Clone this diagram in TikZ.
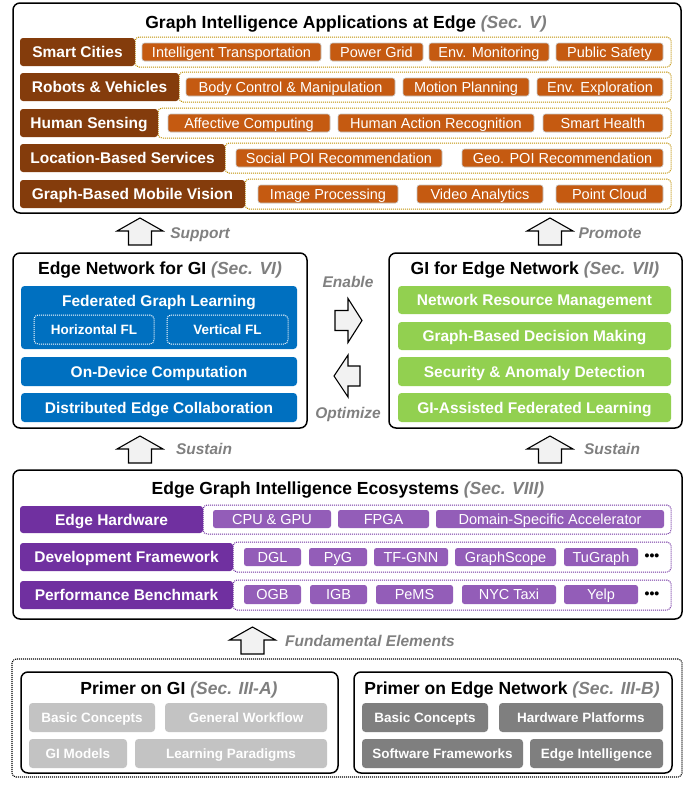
\documentclass[tikz,border=0pt]{standalone}
\usepackage{fontspec}
\setmainfont{Liberation Sans}
\definecolor{brownD}{HTML}{843C0C}
\definecolor{orangeI}{HTML}{C55A11}
\definecolor{goldDot}{HTML}{BF9000}
\definecolor{blueB}{HTML}{0070C0}
\definecolor{greenB}{HTML}{92D050}
\definecolor{purpleD}{HTML}{7030A0}
\definecolor{purpleL}{HTML}{935DB8}
\definecolor{grayL}{HTML}{C3C3C3}
\definecolor{grayD}{HTML}{7F7F7F}
\definecolor{secGray}{HTML}{7F7F7F}
\definecolor{arrFill}{HTML}{F2F2F2}
\newcommand\fsz[1]{\fontsize{#1}{#1}\selectfont}
\newcommand\secref[1]{{\itshape\color{secGray}#1}}
\newcommand\bx[7]{%
  \pgfmathsetmacro\bxw{#5-#3}\pgfmathsetmacro\bxh{#6-#4}%
  \node[#1, minimum width=\bxw pt, minimum height=\bxh pt, inner sep=0pt] (#2) at ({(#3+#5)/2},{(#4+#6)/2}) {#7};}
\begin{document}
\begin{tikzpicture}[x=1pt,y=-1pt,
  txt/.style={text height=#1, text depth=0pt},
  outer/.style={draw=black, line width=1.5pt, rounded corners=7pt, fill=white},
  cat/.style={txt=11.1pt, fill=brownD, text=white, rounded corners=3pt, font=\fsz{15.5}\bfseries},
  item/.style={txt=10.4pt, fill=orangeI, draw=gray!45, line width=0.6pt, text=white, rounded corners=2.5pt, font=\fsz{14.5}},
  golddots/.style={draw=goldDot, dash pattern=on 1pt off 1pt, line width=1pt, rounded corners=4pt},
  bluebox/.style={txt=11.1pt, fill=blueB, text=white, rounded corners=3.5pt, font=\fsz{15.5}\bfseries},
  whitedots/.style={txt=9.7pt, draw=white, dash pattern=on 1pt off 1pt, line width=1pt, rounded corners=4pt, text=white, font=\fsz{13.5}\bfseries},
  greenbox/.style={txt=11.1pt, fill=greenB, text=white, rounded corners=3.5pt, font=\fsz{15.5}\bfseries},
  pcat/.style={txt=11.1pt, fill=purpleD, text=white, rounded corners=3pt, font=\fsz{15.5}\bfseries},
  pitem/.style={txt=10.4pt, fill=purpleL, text=white, rounded corners=2.5pt, font=\fsz{14.5}},
  purpledots/.style={draw=purpleD, dash pattern=on 1pt off 1pt, line width=1pt, rounded corners=4pt},
  lgray/.style={txt=9.7pt, fill=grayL, text=white, rounded corners=3.5pt, font=\fsz{13.5}\bfseries},
  dgray/.style={txt=9.7pt, fill=grayD, text=white, rounded corners=3.5pt, font=\fsz{13.5}\bfseries},
  blackdots/.style={draw=black, dash pattern=on 1pt off 1pt, line width=1.1pt, rounded corners=4pt},
  title/.style={txt=12.6pt, font=\fsz{17.5}\bfseries, inner sep=0pt},
  arrlabel/.style={txt=11.1pt, font=\fsz{15.5}\bfseries\itshape, text=gray, inner sep=0pt},
  blockarrow/.style={draw=black, line width=1.1pt, fill=arrFill, line join=miter},
  uparr/.pic={\draw[blockarrow] (0,0)--(23,13)--(11.5,13)--(11.5,27)--(-11.5,27)--(-11.5,13)--(-23,13)--cycle;},
  rightarr/.pic={\draw[blockarrow] (0,0)--(-14,-22)--(-14,-10)--(-27,-10)--(-27,10)--(-14,10)--(-14,22)--cycle;},
  leftarr/.pic={\draw[blockarrow] (0,0)--(14,-21)--(14,-10)--(26,-10)--(26,10)--(14,10)--(14,21)--cycle;}
]
\useasboundingbox (0,0) rectangle (697,785);

% ---------- Top: applications ----------
\bx{outer}{apps}{13}{3}{681}{213}{}
\node[title] (appsT) at (346,22) {Graph Intelligence Applications at Edge \secref{(Sec. V)}};

\bx{golddots}{r1d}{135}{37}{671}{67}{}
\bx{cat}{r1}{20}{38}{135}{66}{Smart Cities}
\bx{item}{r1a}{142}{43}{321}{61}{Intelligent Transportation}
\bx{item}{r1b}{330}{43}{423}{61}{Power Grid}
\bx{item}{r1c}{429}{43}{549}{61}{Env. Monitoring}
\bx{item}{r1e}{556}{43}{663}{61}{Public Safety}

\bx{golddots}{r2d}{179}{72}{671}{102}{}
\bx{cat}{r2}{20}{73}{179}{101}{Robots \& Vehicles}
\bx{item}{r2a}{186}{78}{395}{96}{Body Control \& Manipulation}
\bx{item}{r2b}{403}{78}{529}{96}{Motion Planning}
\bx{item}{r2c}{537}{78}{663}{96}{Env. Exploration}

\bx{golddots}{r3d}{158}{108}{671}{138}{}
\bx{cat}{r3}{20}{109}{158}{137}{Human Sensing}
\bx{item}{r3a}{168}{114}{330}{132}{Affective Computing}
\bx{item}{r3b}{338}{114}{534}{132}{Human Action Recognition}
\bx{item}{r3c}{543}{114}{663}{132}{Smart Health}

\bx{golddots}{r4d}{225}{143}{671}{173}{}
\bx{cat}{r4}{20}{144}{225}{172}{Location-Based Services}
\bx{item}{r4a}{236}{149}{442}{167}{Social POI Recommendation}
\bx{item}{r4b}{462}{149}{663}{167}{Geo. POI Recommendation}

\bx{golddots}{r5d}{245}{179}{671}{209}{}
\bx{cat}{r5}{20}{180}{245}{208}{Graph-Based Mobile Vision}
\bx{item}{r5a}{258}{185}{398}{203}{Image Processing}
\bx{item}{r5b}{417}{185}{543}{203}{Video Analytics}
\bx{item}{r5c}{556}{185}{663}{203}{Point Cloud}

% ---------- arrows to top ----------
\pic at (140,218) {uparr};
\node[arrlabel] (lsup) at (200,233) {Support};
\pic at (550,218) {uparr};
\node[arrlabel] (lpro) at (610,233) {Promote};

% ---------- Middle left ----------
\bx{outer}{engi}{13}{253}{307}{428}{}
\node[title] (engiT) at (160,268) {Edge Network for GI \secref{(Sec. VI)}};
\bx{bluebox}{fgl}{21}{286}{297}{349}{}
\node[txt=11.1pt, text=white, font=\fsz{15.5}\bfseries, inner sep=0pt] (fglT) at (159,301) {Federated Graph Learning};
\bx{whitedots}{hfl}{34}{315}{154}{344}{Horizontal FL}
\bx{whitedots}{vfl}{167}{315}{288}{344}{Vertical FL}
\bx{bluebox}{odc}{21}{357}{297}{386}{On-Device Computation}
\bx{bluebox}{dec}{21}{393}{297}{422}{Distributed Edge Collaboration}

% ---------- Middle right ----------
\bx{outer}{gien}{389}{253}{682}{428}{}
\node[title] (gienT) at (535,268) {GI for Edge Network \secref{(Sec. VII)}};
\bx{greenbox}{g1}{398}{286}{671}{314}{Network Resource Management}
\bx{greenbox}{g2}{398}{322}{671}{350}{Graph-Based Decision Making}
\bx{greenbox}{g3}{398}{357}{671}{386}{Security \& Anomaly Detection}
\bx{greenbox}{g4}{398}{393}{671}{422}{GI-Assisted Federated Learning}

% ---------- Middle arrows ----------
\node[arrlabel] (lena) at (348,282) {Enable};
\pic at (362,320.5) {rightarr};
\pic at (334,376) {leftarr};
\node[arrlabel] (lopt) at (348,413) {Optimize};

\pic at (140,436) {uparr};
\node[arrlabel] (lsus1) at (204,449) {Sustain};
\pic at (550,436) {uparr};
\node[arrlabel] (lsus2) at (612,449) {Sustain};

% ---------- Ecosystems ----------
\bx{outer}{eco}{13}{470}{682}{619}{}
\node[title] (ecoT) at (348,488) {Edge Graph Intelligence Ecosystems \secref{(Sec. VIII)}};

\bx{purpledots}{e1d}{203}{505}{671}{534}{}
\bx{pcat}{e1}{20}{506}{203}{533}{Edge Hardware}
\bx{pitem}{e1a}{213}{510}{331}{528}{CPU \& GPU}
\bx{pitem}{e1b}{338}{510}{429}{528}{FPGA}
\bx{pitem}{e1c}{436}{510}{664}{528}{Domain-Specific Accelerator}

\bx{purpledots}{e2d}{233}{542}{671}{572}{}
\bx{pcat}{e2}{20}{543}{233}{571}{Development Framework}
\bx{pitem}{e2a}{244}{548}{301}{566}{DGL}
\bx{pitem}{e2b}{309}{548}{367}{566}{PyG}
\bx{pitem}{e2c}{374}{548}{448}{566}{TF-GNN}
\bx{pitem}{e2e}{455}{548}{556}{566}{GraphScope}
\bx{pitem}{e2f}{564}{548}{638}{566}{TuGraph}
\node[font=\fsz{14}\bfseries, inner sep=0pt] (e2g) at (652,557) {•••};

\bx{purpledots}{e3d}{233}{580}{671}{610}{}
\bx{pcat}{e3}{20}{581}{233}{609}{Performance Benchmark}
\bx{pitem}{e3a}{244}{585}{301}{604}{OGB}
\bx{pitem}{e3b}{310}{585}{367}{604}{IGB}
\bx{pitem}{e3c}{376}{585}{453}{604}{PeMS}
\bx{pitem}{e3e}{462}{585}{556}{604}{NYC Taxi}
\bx{pitem}{e3f}{564}{585}{638}{604}{Yelp}
\node[font=\fsz{14}\bfseries, inner sep=0pt] (e3g) at (652,595) {•••};

% ---------- Fundamentals ----------
\pic at (252.5,627) {uparr};
\node[arrlabel] (lfun) at (370,641) {Fundamental Elements};

\bx{blackdots}{fund}{12}{659}{682}{777}{}
\bx{outer}{pgi}{21}{672}{338}{773}{}
\node[title] (pgiT) at (179,688) {Primer on GI \secref{(Sec. III-A)}};
\bx{lgray}{p1}{29}{703}{155}{732}{Basic Concepts}
\bx{lgray}{p2}{165}{703}{327}{732}{General Workflow}
\bx{lgray}{p3}{29}{739}{127}{768}{GI Models}
\bx{lgray}{p4}{135}{739}{327}{768}{Learning Paradigms}

\bx{outer}{pen}{354}{672}{672}{773}{}
\node[title] (penT) at (512,688) {Primer on Edge Network \secref{(Sec. III-B)}};
\bx{dgray}{q1}{362}{703}{488}{732}{Basic Concepts}
\bx{dgray}{q2}{499}{703}{663}{732}{Hardware Platforms}
\bx{dgray}{q3}{362}{739}{523}{768}{Software Frameworks}
\bx{dgray}{q4}{530}{739}{663}{768}{Edge Intelligence}
\end{tikzpicture}
\end{document}
